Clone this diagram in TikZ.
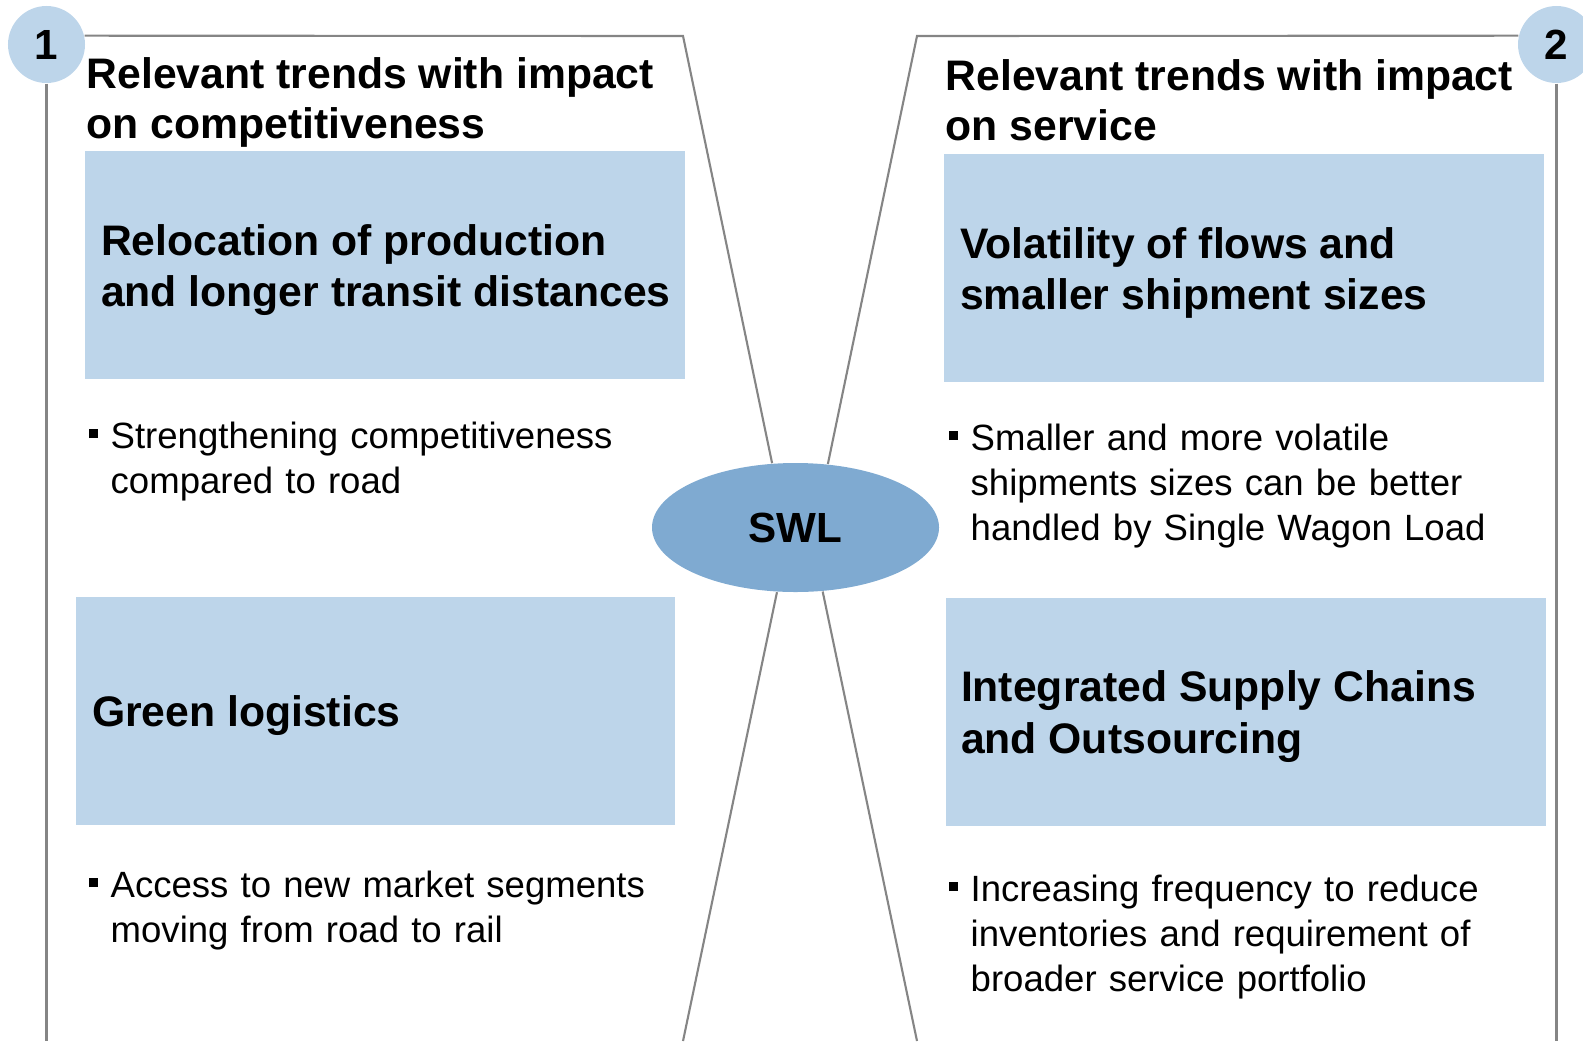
\documentclass[tikz,border=0pt]{standalone}
\usepackage{fontspec}
\setmainfont{Liberation Sans}
\usetikzlibrary{shapes.geometric,calc}

\definecolor{boxblue}{HTML}{BDD5EA}
\definecolor{swlblue}{HTML}{7FAAD1}
\definecolor{framegray}{HTML}{858585}

\newcommand{\sqbullet}{\makebox[0.22cm][l]{\rule[0.1cm]{0.095cm}{0.095cm}}}

\begin{document}
\begin{tikzpicture}[
    trendbox/.style={rectangle, fill=boxblue, minimum width=6cm, minimum height=2.28cm, inner sep=0pt},
    boxtext/.style={anchor=west, align=left, inner sep=0pt, font=\fontsize{12.15}{14.6}\selectfont\bfseries},
    heading/.style={anchor=base west, align=left, inner sep=0pt, font=\fontsize{12.15}{14.2}\selectfont\bfseries},
    bulletitem/.style={anchor=base west, inner sep=0pt, text width=7.5cm, font=\fontsize{10.4}{12.9}\selectfont},
    numcirc/.style={circle, fill=boxblue, minimum size=0.77cm, inner sep=0pt, font=\fontsize{12}{14}\selectfont\bfseries},
    frame/.style={draw=framegray, line width=0.6pt}
]
\useasboundingbox (0,0) rectangle (15.83,10.41);

% Centre
\node[ellipse, fill=swlblue, minimum width=2.87cm, minimum height=1.29cm, inner sep=0pt,
      font=\fontsize{12}{14}\selectfont\bfseries] (swl) at (7.955,5.135) {SWL};

% Numbered corners
\node[numcirc] (c1) at (0.465,9.965) {1};
\node[numcirc] (c2) at (15.565,9.965) {2};

% Frame lines
\coordinate (ltop) at (6.83,10.05);
\coordinate (rtop) at (9.17,10.05);
\coordinate (lbot) at (c1 |- 0,0);
\coordinate (rbot) at (c2 |- 0,0);
\coordinate (lmid) at (6.83,0);
\coordinate (rmid) at (9.17,0);
\draw[frame] (c1.south) -- (lbot);
\draw[frame] (c1.13) -- (ltop) -- (swl.110);
\draw[frame] (swl.254) -- (lmid);
\draw[frame] (c2.south) -- (rbot);
\draw[frame] (c2.167) -- (rtop) -- (swl.63);
\draw[frame] (swl.293) -- (rmid);

% Left side: competitiveness
\node[heading] (h1) at (0.86,9.03) {Relevant trends with impact\\on competitiveness};
\node[trendbox] (b1) at (3.85,7.76) {};
\node[boxtext] (t1) at ([xshift=0.16cm,yshift=-0.05cm]b1.west) {Relocation of production\\and longer transit distances};
\node[bulletitem] (p1) at (0.88,5.93) {\hangindent=0.22cm\hangafter=1\sqbullet Strengthening competitiveness\newline compared to road\par};
\node[trendbox, minimum width=5.99cm] (b2) at (3.755,3.305) {};
\node[boxtext] (t2) at ([xshift=0.16cm,yshift=-0.05cm]b2.west) {Green logistics};
\node[bulletitem] (p2) at (0.88,1.44) {\hangindent=0.22cm\hangafter=1\sqbullet Access to new market segments\newline moving from road to rail\par};

% Right side: service
\node[heading] (h2) at (9.45,9.005) {Relevant trends with impact\\on service};
\node[trendbox] (b3) at (12.44,7.73) {};
\node[boxtext] (t3) at ([xshift=0.16cm,yshift=-0.05cm]b3.west) {Volatility of flows and\\smaller shipment sizes};
\node[bulletitem] (p3) at (9.48,5.91) {\hangindent=0.22cm\hangafter=1\sqbullet Smaller and more volatile\newline shipments sizes can be better\newline handled by Single Wagon Load\par};
\node[trendbox] (b4) at (12.46,3.295) {};
\node[boxtext] (t4) at ([xshift=0.15cm,yshift=-0.05cm]b4.west) {Integrated Supply Chains\\and Outsourcing};
\node[bulletitem] (p4) at (9.48,1.40) {\hangindent=0.22cm\hangafter=1\sqbullet Increasing frequency to reduce\newline inventories and requirement of\newline broader service portfolio\par};

\end{tikzpicture}
\end{document}
